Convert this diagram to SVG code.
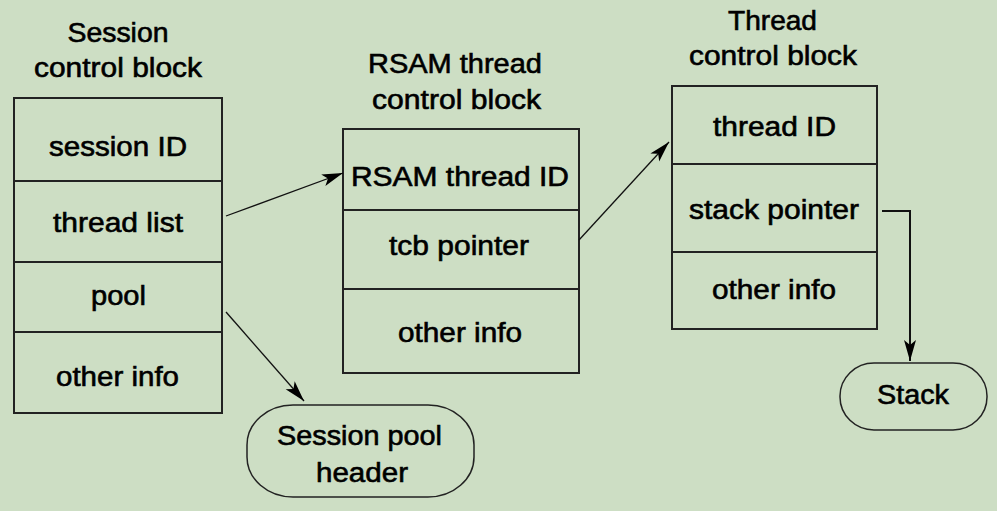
<svg xmlns="http://www.w3.org/2000/svg" width="997" height="511" viewBox="0 0 997 511">
<defs>
<style>
.bg{fill:#cddec4}
.box{fill:none;stroke:#222;stroke-width:2}
.pill{fill:none;stroke:#222;stroke-width:1.5}
.t{font-family:"Liberation Sans",Arial,sans-serif;font-size:27px;fill:#000;stroke:#000;stroke-width:0.6;text-anchor:middle}
.c{fill:none;stroke:#111;stroke-width:1.3}
.c2{fill:none;stroke:#111;stroke-width:2}
</style>
<marker id="ah" markerUnits="userSpaceOnUse" markerWidth="24" markerHeight="14" refX="21" refY="7" orient="auto">
<path d="M0,1 L21,7 L0,13 L5,7 Z" fill="#000"/>
</marker>
</defs>
<rect class="bg" x="0" y="0" width="997" height="511"/>

<g id="session-control-block">
<text class="t" x="118" y="42" textLength="101" lengthAdjust="spacingAndGlyphs">Session</text>
<text class="t" x="118" y="77" textLength="168" lengthAdjust="spacingAndGlyphs">control  block</text>
<rect class="box" x="14" y="98" width="208" height="315"/>
<line class="box" x1="14" y1="181" x2="222" y2="181"/>
<line class="box" x1="14" y1="262" x2="222" y2="262"/>
<line class="box" x1="14" y1="332" x2="222" y2="332"/>
<text class="t" x="118" y="156" textLength="138" lengthAdjust="spacingAndGlyphs">session  ID</text>
<text class="t" x="118" y="232" textLength="130" lengthAdjust="spacingAndGlyphs">thread  list</text>
<text class="t" x="118.5" y="305" textLength="55" lengthAdjust="spacingAndGlyphs">pool</text>
<text class="t" x="117.5" y="386" textLength="123" lengthAdjust="spacingAndGlyphs">other  info</text>
</g>

<g id="rsam-thread-control-block">
<text class="t" x="455" y="73" textLength="174" lengthAdjust="spacingAndGlyphs">RSAM  thread</text>
<text class="t" x="456.5" y="109" textLength="169" lengthAdjust="spacingAndGlyphs">control  block</text>
<rect class="box" x="343" y="129" width="236" height="244"/>
<line class="box" x1="343" y1="210" x2="579" y2="210"/>
<line class="box" x1="343" y1="289" x2="579" y2="289"/>
<text class="t" x="460" y="186" textLength="218" lengthAdjust="spacingAndGlyphs">RSAM  thread  ID</text>
<text class="t" x="459" y="255" textLength="140" lengthAdjust="spacingAndGlyphs">tcb  pointer</text>
<text class="t" x="460" y="342" textLength="124" lengthAdjust="spacingAndGlyphs">other  info</text>
</g>

<g id="thread-control-block">
<text class="t" x="772.5" y="30" textLength="89" lengthAdjust="spacingAndGlyphs">Thread</text>
<text class="t" x="773" y="65" textLength="168" lengthAdjust="spacingAndGlyphs">control  block</text>
<rect class="box" x="672" y="86" width="205" height="243"/>
<line class="box" x1="672" y1="164" x2="877" y2="164"/>
<line class="box" x1="672" y1="252" x2="877" y2="252"/>
<text class="t" x="774.5" y="136" textLength="123" lengthAdjust="spacingAndGlyphs">thread  ID</text>
<text class="t" x="774" y="219" textLength="170" lengthAdjust="spacingAndGlyphs">stack  pointer</text>
<text class="t" x="774" y="299" textLength="124" lengthAdjust="spacingAndGlyphs">other  info</text>
</g>

<g id="session-pool-header">
<rect class="pill" x="247" y="405" width="227" height="92" rx="46" ry="40"/>
<text class="t" x="359.5" y="445" textLength="165" lengthAdjust="spacingAndGlyphs">Session pool</text>
<text class="t" x="362" y="482" textLength="92" lengthAdjust="spacingAndGlyphs">header</text>
</g>

<g id="stack">
<rect class="pill" x="840" y="363" width="147" height="67" rx="34" ry="33"/>
<text class="t" x="913" y="404" textLength="72" lengthAdjust="spacingAndGlyphs">Stack</text>
</g>

<g id="connectors">
<line class="c" x1="226" y1="216" x2="343" y2="173" marker-end="url(#ah)"/>
<line class="c" x1="226" y1="312" x2="304" y2="401" marker-end="url(#ah)"/>
<line class="c" x1="579" y1="240" x2="669" y2="142" marker-end="url(#ah)"/>
<polyline class="c2" points="882,211 910,211 910,361" marker-end="url(#ah)"/>
</g>
</svg>
